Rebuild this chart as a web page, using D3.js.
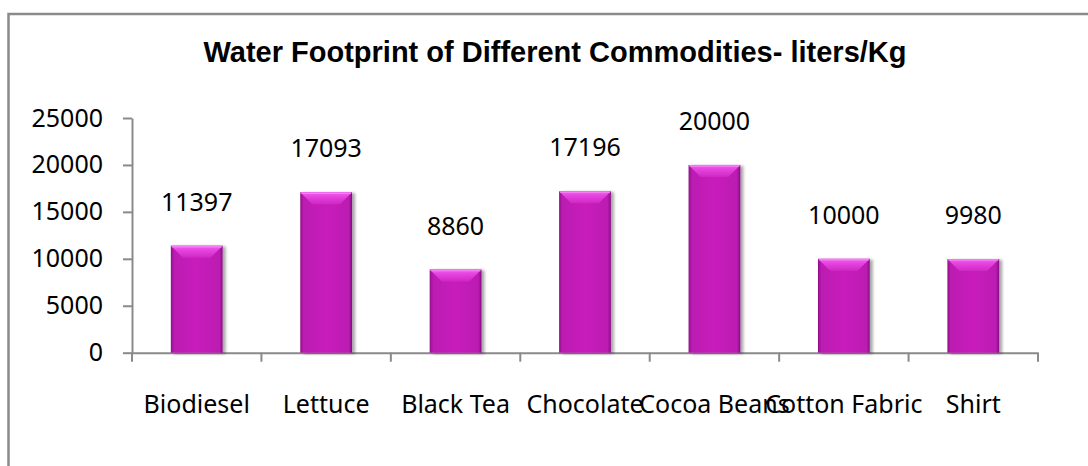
<!DOCTYPE html>
<html>
<head>
<meta charset="utf-8">
<script src="https://cdn.jsdelivr.net/npm/d3@7"></script>
<style>
  body { margin: 0; background: #fff; }
</style>
</head>
<body>
<div id="waterviz"></div>
<script>
// data
const commodities = ["Biodiesel", "Lettuce", "Black Tea", "Chocolate", "Cocoa Beans", "Cotton Fabric", "Shirt"];
const litersPerKg = [11397, 17093, 8860, 17196, 20000, 10000, 9980];
const yTicks = [0, 5000, 10000, 15000, 20000, 25000];
const chartTitle = "Water Footprint of Different Commodities- liters/Kg";

const W = 1088, H = 466;
const margin = {top: 118, right: 50, bottom: 113, left: 132},
    width = W - margin.left - margin.right,
    height = 352.7 - margin.top;

const svg0 = d3.select("#waterviz")
  .append("svg")
    .attr("width", W)
    .attr("height", H);

// drop shadow for the bars
const defs = svg0.append("defs");
const f = defs.append("filter").attr("id", "shadow")
  .attr("x", "-20%").attr("y", "-5%").attr("width", "150%").attr("height", "115%");
f.append("feGaussianBlur").attr("in", "SourceAlpha").attr("stdDeviation", 1.8);
f.append("feOffset").attr("dx", 3).attr("dy", 1).attr("result", "b");
f.append("feComponentTransfer").append("feFuncA").attr("type", "linear").attr("slope", 0.35);
const fm = f.append("feMerge");
fm.append("feMergeNode");
fm.append("feMergeNode").attr("in", "SourceGraphic");

const grad = defs.append("linearGradient").attr("id", "barside")
  .attr("x1", "0").attr("x2", "1").attr("y1", "0").attr("y2", "0");
grad.append("stop").attr("offset", "0").attr("stop-color", "#8e0f88");
grad.append("stop").attr("offset", "0.06").attr("stop-color", "#bb1ab1");
grad.append("stop").attr("offset", "0.5").attr("stop-color", "#c81fbc");
grad.append("stop").attr("offset", "0.94").attr("stop-color", "#bb1ab1");
grad.append("stop").attr("offset", "1").attr("stop-color", "#850d80");

const topGrad = defs.append("linearGradient").attr("id", "bevel")
  .attr("x1", "0").attr("x2", "0").attr("y1", "0").attr("y2", "1");
topGrad.append("stop").attr("offset", "0").attr("stop-color", "#f562f2");
topGrad.append("stop").attr("offset", "0.35").attr("stop-color", "#e645e0");
topGrad.append("stop").attr("offset", "1").attr("stop-color", "#cf27c4");

// outer chart border (runs off the right and bottom)
svg0.append("rect")
  .attr("x", 8.5).attr("y", 14)
  .attr("width", W + 20).attr("height", H + 20)
  .attr("fill", "#fff")
  .attr("stroke", "#8a8a8a")
  .attr("stroke-width", 2.5);

svg0.append("text")
  .attr("x", 555)
  .attr("y", 62)
  .attr("text-anchor", "middle")
  .style("font-family", "Liberation Sans, Arial, sans-serif")
  .style("font-weight", "bold")
  .style("font-size", "29px")
  .text(chartTitle);

const svg = svg0.append("g")
    .attr("transform", `translate(${margin.left},${margin.top})`);

const x = d3.scaleBand()
  .domain(commodities)
  .range([0, width])
  .paddingInner(0.6)
  .paddingOuter(0.3);

const y = d3.scaleLinear()
  .domain([0, 25000])
  .range([height, 0]);

const labelFont = "'Noto Sans', 'Open Sans', sans-serif";

// Y axis
const yAxis = svg.append("g")
  .call(d3.axisLeft(y).tickValues(yTicks).tickFormat(d3.format("d"))
    .tickSize(9).tickPadding(20).tickSizeOuter(0));
yAxis.select(".domain").attr("stroke", "#8a8a8a").attr("stroke-width", 2);
yAxis.selectAll(".tick line").attr("stroke", "#8a8a8a").attr("stroke-width", 2);
yAxis.selectAll(".tick text")
  .attr("fill", "#000")
  .style("font-family", labelFont)
  .style("font-size", "25px");

// X axis - ticks go on the category boundaries, like excel does
const xAxis = svg.append("g")
  .attr("transform", `translate(0, ${height})`)
  .call(d3.axisBottom(x).tickSize(0).tickPadding(43).tickSizeOuter(0));
xAxis.select(".domain").attr("stroke", "#8a8a8a").attr("stroke-width", 2);
xAxis.selectAll(".tick text")
  .attr("fill", "#000")
  .style("font-family", labelFont)
  .style("font-size", "25px");

const step = x.step();
svg.append("g")
  .selectAll("line")
  .data(d3.range(commodities.length + 1))
  .join("line")
    .attr("x1", d => d * step)
    .attr("x2", d => d * step)
    .attr("y1", height)
    .attr("y2", height + 9)
    .attr("stroke", "#8a8a8a")
    .attr("stroke-width", 2);

const bars = svg.append("g")
  .selectAll("g")
  .data(litersPerKg)
  .join("g")
    .attr("filter", "url(#shadow)");

bars.append("rect")
  .attr("x", (d, i) => x(commodities[i]))
  .attr("y", d => y(d))
  .attr("width", x.bandwidth())
  .attr("height", d => height - y(d))
  .attr("fill", "url(#barside)");

// bevel on top of each bar
const bev = 12;
bars.append("polygon")
  .attr("points", (d, i) => {
    const x0 = x(commodities[i]), x1 = x0 + x.bandwidth(), t = y(d);
    return [[x0, t], [x1, t], [x1 - bev, t + bev], [x0 + bev, t + bev]].join(" ");
  })
  .attr("fill", "url(#bevel)");

bars.append("line")
  .attr("x1", (d, i) => x(commodities[i]) + 1)
  .attr("x2", (d, i) => x(commodities[i]) + x.bandwidth() - 1)
  .attr("y1", d => y(d) + 1)
  .attr("y2", d => y(d) + 1)
  .attr("stroke", "#f87cf6")
  .attr("stroke-width", 1.5);

// value labels
svg.append("g")
  .selectAll("text")
  .data(litersPerKg)
  .join("text")
    .attr("x", (d, i) => x(commodities[i]) + x.bandwidth() / 2)
    .attr("y", d => y(d) - 44)
    .attr("dy", "0.36em")
    .attr("text-anchor", "middle")
    .style("font-family", labelFont)
    .style("font-size", "25px")
    .text(d => d);
</script>
</body>
</html>
